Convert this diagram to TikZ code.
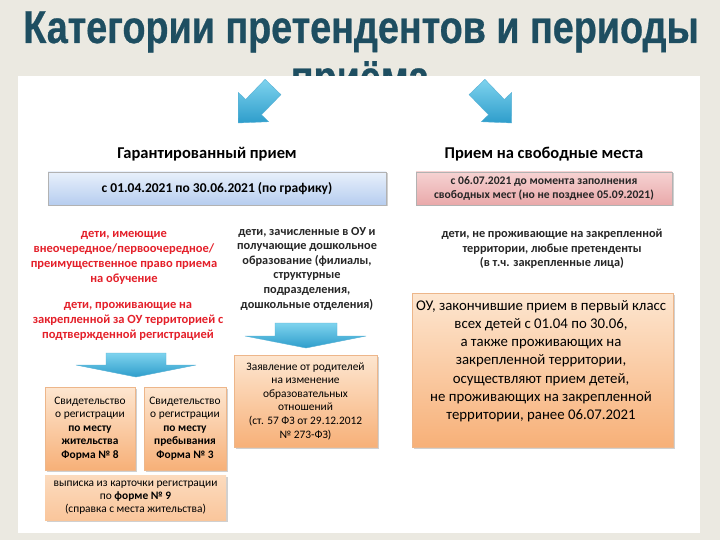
\documentclass[tikz,border=0pt]{standalone}
\usepackage{fontspec}
\setmainfont{Carlito}
\newfontfamily\titlefont[FakeStretch=0.82, FakeBold=0.6]{Liberation Sans}
\usetikzlibrary{shadows}

\definecolor{bgbeige}{HTML}{EBE9E1}
\definecolor{titleteal}{HTML}{1E4E61}
\definecolor{textred}{HTML}{E4202A}
\definecolor{bluelight}{HTML}{E8F0FB}
\definecolor{bluedark}{HTML}{B6CDEF}
\definecolor{pinklight}{HTML}{F6D2D2}
\definecolor{pinkdark}{HTML}{E9A9AA}
\definecolor{orlight}{HTML}{FDE6D0}
\definecolor{ordark}{HTML}{F7B078}
\definecolor{orline}{HTML}{EDB68A}
\definecolor{arrlight}{HTML}{7ED3EE}
\definecolor{arrdark}{HTML}{2E9DCB}

\tikzset{
  ttl/.style={font=\titlefont\bfseries\fontsize{46}{50}\selectfont, text=titleteal, inner sep=0pt},
  head/.style={font=\bfseries\fontsize{16.5}{19}\selectfont, inner sep=0pt},
  txt/.style={align=center, inner sep=0pt, font=\bfseries\fontsize{12.3}{14.6}\selectfont, text=black!85},
  redtxt/.style={txt, text=textred, font=\bfseries\fontsize{12.5}{15}\selectfont},
  shadowed/.style={drop shadow={shadow xshift=1.5pt, shadow yshift=-1.5pt, opacity=0.3, fill=black!60}},
  datebox/.style={shadowed, draw=black!30, align=center, inner sep=0pt},
  orbox/.style={shadowed, draw=orline, top color=orlight, bottom color=ordark, align=center, inner sep=0pt,
    font=\fontsize{11.4}{13.6}\selectfont},
  blockarrow/.style={top color=arrlight, bottom color=arrdark, draw=arrdark!80}
}

\begin{document}
\begin{tikzpicture}[x=1pt, y=-1pt]
  \useasboundingbox (0,0) rectangle (720,540);
  \fill[bgbeige] (0,0) rectangle (720,540);

  % title, second line partly hidden by the panel
  \node[ttl, anchor=base] (title1) at (361,43) {Категории претендентов и периоды};
  \node[ttl, anchor=base] (title2) at (360,93) {приёма};
  \fill[white] (18,76) rectangle (700,533);

  % diagonal arrows
  \begin{scope}[shift={(273,87)}, rotate=226]
    \path[blockarrow] (0,-11) -- (28,-11) -- (28,-21) -- (50,0) -- (28,21) -- (28,11) -- (0,11) -- cycle;
  \end{scope}
  \begin{scope}[shift={(477,87)}, rotate=-46]
    \path[blockarrow] (0,-11) -- (28,-11) -- (28,-21) -- (50,0) -- (28,21) -- (28,11) -- (0,11) -- cycle;
  \end{scope}

  % headings and periods
  \node[head] (guar) at (207,154) {Гарантированный прием};
  \node[head] (free) at (544,154) {Прием на свободные места};

  \node[datebox, top color=bluelight, bottom color=bluedark, minimum width=338pt, minimum height=33pt,
    font=\bfseries\fontsize{13.5}{16}\selectfont] (guarper) at (217,188.5)
    {с 01.04.2021 по 30.06.2021 (по графику)};
  \node[datebox, top color=pinklight, bottom color=pinkdark, minimum width=256pt, minimum height=33pt,
    font=\bfseries\fontsize{11.6}{14}\selectfont, text=black!85] (freeper) at (544,188.5)
    {с 06.07.2021 до момента заполнения\\свободных мест (но не позднее 05.09.2021)};

  % categories
  \node[redtxt] (prior) at (124,257.5)
    {дети, имеющие\\внеочередное/первоочередное/\\преимущественное право приема\\на обучение};
  \node[redtxt] (local) at (128,321.5)
    {дети, проживающие на\\закрепленной за ОУ территорией с\\подтвержденной регистрацией};
  \node[txt] (presch) at (307,268.5)
    {дети, зачисленные в ОУ и\\получающие дошкольное\\образование (филиалы,\\структурные\\подразделения,\\дошкольные отделения)};
  \node[txt] (other) at (552,249)
    {дети, не проживающие на закрепленной\\территории, любые претенденты\\(в т.ч. закрепленные лица)};

  % down arrows
  \path[blockarrow] (106,353) -- (166,353) -- (166,365) -- (196,365) -- (136,377)
    -- (76,365) -- (106,365) -- cycle;
  \path[blockarrow] (275,323) -- (337,323) -- (337,336) -- (366,336) -- (306,348)
    -- (245,336) -- (275,336) -- cycle;

  % documents
  \node[orbox, minimum width=90pt, minimum height=83pt] (form8) at (90,428.5)
    {Свидетельство\\о регистрации\\\textbf{по месту}\\\textbf{жительства}\\\textbf{Форма № 8}};
  \node[orbox, minimum width=82pt, minimum height=83pt] (form3) at (185,428.5)
    {Свидетельство\\о регистрации\\\textbf{по месту}\\\textbf{пребывания}\\\textbf{Форма № 3}};
  \node[orbox, top color=orlight!80!ordark, bottom color=orlight!40!ordark, draw=none,
    minimum width=181pt, minimum height=45pt, font=\fontsize{11.4}{12.8}\selectfont] (form9) at (135.5,497.5)
    {выписка из карточки регистрации\\по \textbf{форме № 9}\\(справка с места жительства)};
  \node[orbox, minimum width=143pt, minimum height=92pt] (appl) at (305.5,401)
    {Заявление от родителей\\на изменение\\образовательных\\отношений\\(ст. 57 ФЗ от 29.12.2012\\№ 273-ФЗ)};

  % right box
  \node[orbox, minimum width=261pt, minimum height=154pt] (early) at (542.5,370) {};
  \node[align=center, inner sep=0pt, font=\fontsize{14.8}{18.2}\selectfont] (earlytxt) at (541,361)
    {ОУ, закончившие прием в первый класс\\всех детей с 01.04 по 30.06,\\а также проживающих на\\закрепленной территории,\\осуществляют прием детей,\\не проживающих на закрепленной\\территории, ранее 06.07.2021};
\end{tikzpicture}
\end{document}
